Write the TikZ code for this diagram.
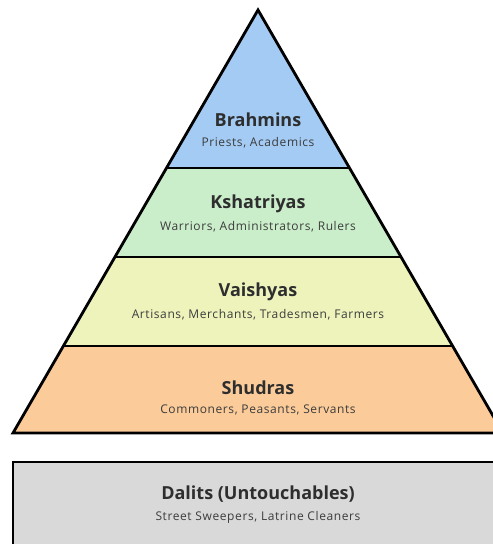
\documentclass[tikz,border=0pt]{standalone}
\usepackage{fontspec}
\setmainfont{Open Sans}
\usetikzlibrary{calc}
\definecolor{tierblue}{HTML}{A3CBF4}
\definecolor{tiergreen}{HTML}{CBEECA}
\definecolor{tieryellow}{HTML}{EEF3BC}
\definecolor{tierorange}{HTML}{FBCB99}
\definecolor{tiergrey}{HTML}{D9D9D9}
\definecolor{inkdark}{HTML}{2E2E2E}
\definecolor{inksoft}{HTML}{3C3C3C}
\begin{document}
\begin{tikzpicture}[x=1pt,y=-1pt,line join=miter,
  outline/.style={draw=black,line width=2.8pt},
  divider/.style={draw=black,line width=2.4pt},
  tiertitle/.style={font=\bfseries\fontsize{18}{20}\selectfont,text=inkdark,inner sep=0pt},
  tiersub/.style={font=\fontsize{12}{14}\selectfont\addfontfeatures{LetterSpace=5},text=inksoft,inner sep=0pt}]
\useasboundingbox (0,0) rectangle (493,544);
\clip (0,0) rectangle (493,544);
% pyramid corners
\coordinate (apex) at (258,10);
\coordinate (bl) at (13,433);
\coordinate (br) at (503,433);
% band boundaries along the two slanted sides
\coordinate (l1) at ($(apex)!0.3735!(bl)$);
\coordinate (r1) at ($(apex)!0.3735!(br)$);
\coordinate (l2) at ($(apex)!0.5839!(bl)$);
\coordinate (r2) at ($(apex)!0.5839!(br)$);
\coordinate (l3) at ($(apex)!0.7943!(bl)$);
\coordinate (r3) at ($(apex)!0.7943!(br)$);
% band fills
\fill[tierblue] (apex) -- (r1) -- (l1) -- cycle;
\fill[tiergreen] (l1) -- (r1) -- (r2) -- (l2) -- cycle;
\fill[tieryellow] (l2) -- (r2) -- (r3) -- (l3) -- cycle;
\fill[tierorange] (l3) -- (r3) -- (br) -- (bl) -- cycle;
% separators and outline
\draw[divider] (l1) -- (r1);
\draw[divider] (l2) -- (r2);
\draw[divider] (l3) -- (r3);
\draw[outline] (apex) -- (br) -- (bl) -- cycle;
% base box
\draw[outline,fill=tiergrey] (13,462) rectangle (520,570);
% labels
\node[tiertitle] (brahmins) at (258,120) {Brahmins};
\node[tiersub] (brahminsSub) at (258,143) {Priests, Academics};
\node[tiertitle] (kshatriyas) at (258,204) {Kshatriyas};
\node[tiersub] (kshatriyasSub) at (258,227) {Warriors, Administrators, Rulers};
\node[tiertitle] (vaishyas) at (258,292) {Vaishyas};
\node[tiersub] (vaishyasSub) at (258,315) {Artisans, Merchants, Tradesmen, Farmers};
\node[tiertitle] (shudras) at (258,388) {Shudras};
\node[tiersub] (shudrasSub) at (258,410) {Commoners, Peasants, Servants};
\node[tiertitle] (dalits) at (258,494) {Dalits (Untouchables)};
\node[tiersub] (dalitsSub) at (258,517) {Street Sweepers, Latrine Cleaners};
\end{tikzpicture}
\end{document}
